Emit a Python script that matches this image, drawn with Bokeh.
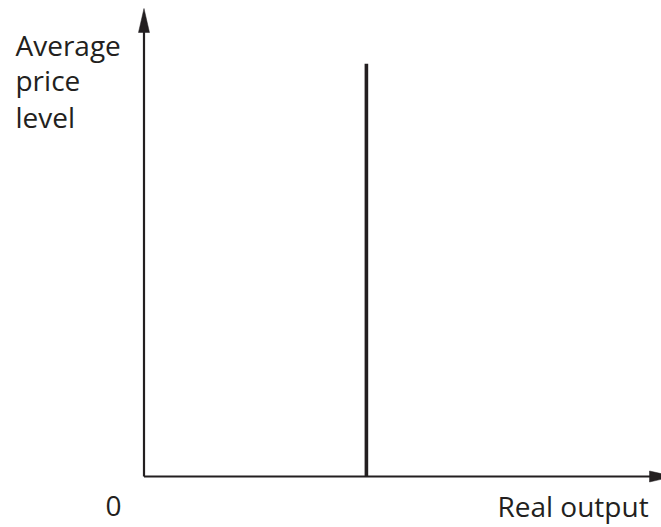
from bokeh.plotting import figure
from bokeh.models import Range1d
from bokeh.core.properties import value
from bokeh.embed import file_html
from bokeh.resources import INLINE

# ---- data (diagram units) ----
axis_x_max = [10.0]          # tip of the horizontal axis arrow
axis_y_max = [10.0]          # tip of the vertical axis arrow
lras_output = [4.2]          # vertical line position (real output)
lras_top = [8.82]            # height of the vertical line (price level)
y_label_lines = ["Average", "price", "level"]
y_label_pos = [9.23, 8.48, 7.69]
x_label = ["Real output"]
origin_label = ["0"]

INK = "#231f20"
FONT = value("Open Sans")
W, H = 661, 527
X0, X1 = -2.710, 9.773
Y0, Y1 = -1.090, 10.171

p = figure(width=W, height=H, output_backend="svg", toolbar_location=None,
           x_range=Range1d(X0, X1), y_range=Range1d(Y0, Y1),
           min_border=0, min_border_left=0, min_border_right=0,
           min_border_top=0, min_border_bottom=0)
p.axis.visible = False
p.grid.visible = False
p.outline_line_color = None
p.background_fill_color = "white"
p.border_fill_color = "white"

px_x = (X1 - X0) / W   # data units per pixel
px_y = (Y1 - Y0) / H

head_len, head_half = 24, 5.5

# axes shafts
p.segment(x0=[0, 0], y0=[0, 0],
          x1=[0, axis_x_max[0] - head_len * px_x * 0.9],
          y1=[axis_y_max[0] - head_len * px_y * 0.9, 0],
          line_color=INK, line_width=2.2)

# arrow heads (narrow filled triangles)
ty = axis_y_max[0]
tx = axis_x_max[0]
p.patches(
    xs=[[0, -head_half * px_x, head_half * px_x],
        [tx, tx - head_len * px_x, tx - head_len * px_x]],
    ys=[[ty, ty - head_len * px_y, ty - head_len * px_y],
        [0, head_half * px_y, -head_half * px_y]],
    fill_color=INK, line_color=INK, line_width=0.5)

# vertical line
p.segment(x0=lras_output, y0=[0], x1=lras_output, y1=lras_top,
          line_color=INK, line_width=3.6)

# labels
p.text(x=[-2.427] * 3, y=y_label_pos, text=y_label_lines,
       text_font=FONT, text_font_size="28px", text_color=INK,
       text_align="left", text_baseline="alphabetic")
p.text(x=[-0.576], y=[-0.62], text=origin_label,
       text_font=FONT, text_font_size="28px", text_color=INK,
       text_align="center", text_baseline="alphabetic")
p.text(x=[9.53], y=[-0.62], text=x_label,
       text_font=FONT, text_font_size="28px", text_color=INK,
       text_align="right", text_baseline="alphabetic")

open("out.html", "w").write(file_html(p, INLINE))
